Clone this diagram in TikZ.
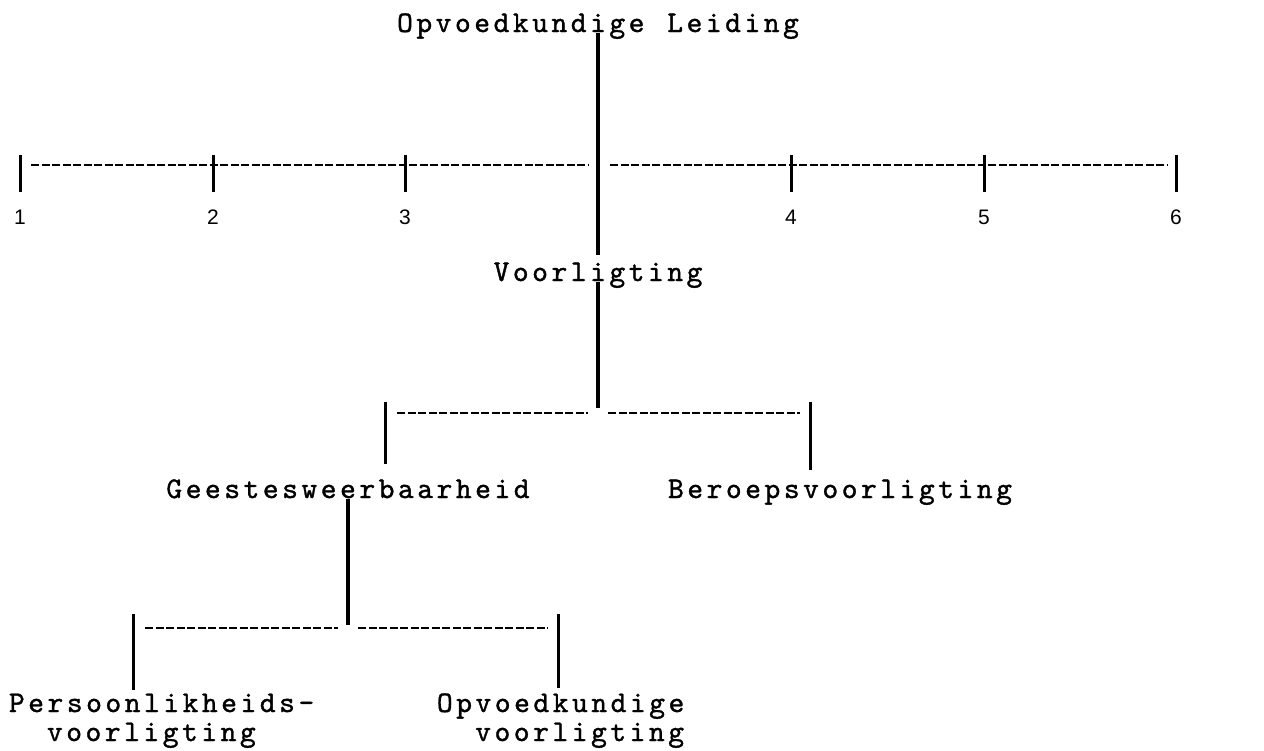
\documentclass[tikz,border=0pt]{standalone}
\usepackage{fontspec}
\newfontfamily\numfont{Liberation Sans}
\newfontfamily\tyfont{lmmono10-regular.otf}[FakeBold=1.2]
\newlength\pitch
\setlength\pitch{19.3pt}
\ExplSyntaxOn
\NewDocumentCommand\tw{m}{\str_map_inline:nn{#1}{\makebox[\pitch][c]{##1}}}
\ExplSyntaxOff
\begin{document}
\begin{tikzpicture}[x=1pt,y=-1pt,
  txt/.style={inner sep=0pt,font=\tyfont\fontsize{30}{32}\selectfont},
  num/.style={inner sep=0pt,font=\numfont\fontsize{21}{24}\selectfont},
  stem/.style={line width=4.5pt},
  tickline/.style={line width=3pt},
  dashline/.style={line width=2pt,dash pattern=on 8pt off 2.5pt}]
\useasboundingbox (0,0) rectangle (1264,750);

% texts
\node[txt,anchor=base] (top) at (598,32) {\tw{Opvoedkundige Leiding}};
\node[txt,anchor=base] (voor) at (598,281) {\tw{Voorligting}};
\node[txt,anchor=base] (gees) at (348,498) {\tw{Geestesweerbaarheid}};
\node[txt,anchor=base] (ber) at (840,498) {\tw{Beroepsvoorligting}};
\node[txt,anchor=base west] (pers1) at (7,712) {\tw{Persoonlikheids-}};
\node[txt,anchor=base west] (pers2) at (45,741) {\tw{voorligting}};
\node[txt,anchor=base west] (opv1) at (435,712) {\tw{Opvoedkundige}};
\node[txt,anchor=base east] (opv2) at (686,741) {\tw{voorligting}};

% axis
\coordinate (t1) at (20,165);
\coordinate (t2) at (213,165);
\coordinate (t3) at (405,165);
\coordinate (t4) at (791,165);
\coordinate (t5) at (984,165);
\coordinate (t6) at (1176,165);
\coordinate (gl) at (588,165);
\coordinate (gr) at (610,165);
\draw[dashline] ([xshift=11pt]t1) -- (gl);
\draw[dashline] (gr) -- ([xshift=-9pt]t6);
\foreach \t in {t1,t2,t3,t4,t5,t6}
  \draw[tickline] ([yshift=10pt]\t) -- ([yshift=-27pt]\t);
\node[num] (n1) at (20,217) {1};
\node[num] (n2) at (213,217) {2};
\node[num] (n3) at (405,217) {3};
\node[num] (n4) at (791,217) {4};
\node[num] (n5) at (984,217) {5};
\node[num] (n6) at (1176,217) {6};

% central stem
\coordinate (c1) at (598,255);
\coordinate (j1) at (598,408);
\draw[stem] ([yshift=-1pt]top.base) -- (c1);
\draw[stem] ([yshift=-1pt]voor.base) -- (j1);

% second level
\coordinate (l2) at (385,413);
\coordinate (r2) at (810,413);
\draw[dashline] ([xshift=12pt]l2) -- (588,413);
\draw[dashline] (608,413) -- ([xshift=-10pt]r2);
\coordinate (l2b) at (385,464);
\coordinate (r2b) at (810,470);
\draw[tickline] ([yshift=11pt]l2) -- (l2b);
\draw[tickline] ([yshift=11pt]r2) -- (r2b);

% third level
\coordinate (j2) at (348,625);
\draw[stem] ([yshift=-1pt]gees.base) -- (j2);
\coordinate (l3) at (133,628);
\coordinate (r3) at (558,628);
\draw[dashline] ([xshift=12pt]l3) -- (338,628);
\draw[dashline] (358,628) -- ([xshift=-10pt]r3);
\coordinate (l3b) at (133,690);
\coordinate (r3b) at (558,688);
\draw[tickline] ([yshift=14pt]l3) -- (l3b);
\draw[tickline] ([yshift=14pt]r3) -- (r3b);
\end{tikzpicture}
\end{document}
